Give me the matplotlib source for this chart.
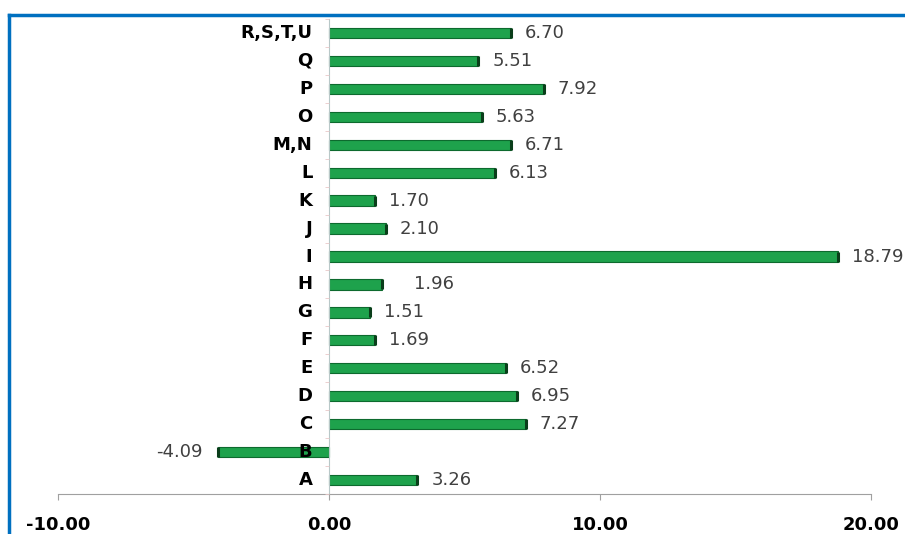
import numpy as np
import matplotlib.pyplot as plt
from matplotlib.lines import Line2D

# data (bottom to top)
categories = ["A", "B", "C", "D", "E", "F", "G", "H", "I", "J", "K", "L",
              "M,N", "O", "P", "Q", "R,S,T,U"]
values = [3.26, -4.09, 7.27, 6.95, 6.52, 1.69, 1.51, 1.96, 18.79, 2.10, 1.70,
          6.13, 6.71, 5.63, 7.92, 5.51, 6.70]
x_ticks = [-10, 0, 10, 20]

fig = plt.figure(figsize=(9.05, 5.34), dpi=100)
ax = fig.add_axes([58 / 905, 40 / 534, (871 - 58) / 905, (494 - 19) / 534])
ax.set_axisbelow(False)

y = np.arange(len(categories))
ax.barh(y, values, height=0.37, color="#1ea24c", edgecolor="#0d6a2e",
        linewidth=0.8, zorder=2)
# dark end caps of the bars
ax.scatter(values, y, marker="|", s=60, color="#0a3d1a", linewidths=2.2, zorder=2.2)

# value labels
for yi, v in zip(y, values):
    txt = f"{v:.2f}"
    if v < 0:
        ax.annotate(txt, (v, yi), xytext=(-11, 0), textcoords="offset points",
                    ha="right", va="center", fontsize=13, color="#404040")
    else:
        extra = 13 if categories[yi] == "H" else 0
        ax.annotate(txt, (v, yi), xytext=(10 + extra, 0), textcoords="offset points",
                    ha="left", va="center", fontsize=13, color="#404040",
                    annotation_clip=False)

ax.set_xlim(-10, 20)
ax.set_ylim(-0.5, len(categories) - 0.5)
ax.set_xticks(x_ticks)
ax.set_xticklabels([f"{t:.2f}" for t in x_ticks], fontsize=13, fontweight="bold")
ax.tick_params(axis="x", length=4, color="#a0a0a0", pad=12)

ax.spines["left"].set_position(("data", 0))
ax.spines["left"].set_color("#b8c8c8")
ax.spines["bottom"].set_color("#a0a0a0")
ax.spines["top"].set_visible(False)
ax.spines["right"].set_visible(False)
ax.set_yticks(y)
ax.set_yticklabels(categories, fontsize=13, fontweight="bold", va="center")
ax.tick_params(axis="y", length=0, pad=12)
ax.set_yticks(np.arange(len(categories) + 1) - 0.5, minor=True)
ax.tick_params(axis="y", which="minor", length=3, color="#e8c8c8")

# blue frame at top and left
fig.add_artist(Line2D([9 / 905, 1], [1 - 15 / 534, 1 - 15 / 534],
                      color="#0070c0", linewidth=2.5, transform=fig.transFigure))
fig.add_artist(Line2D([9 / 905, 9 / 905], [0, 1 - 15 / 534],
                      color="#0070c0", linewidth=2.5, transform=fig.transFigure))

fig.savefig("out.png", dpi=100)
